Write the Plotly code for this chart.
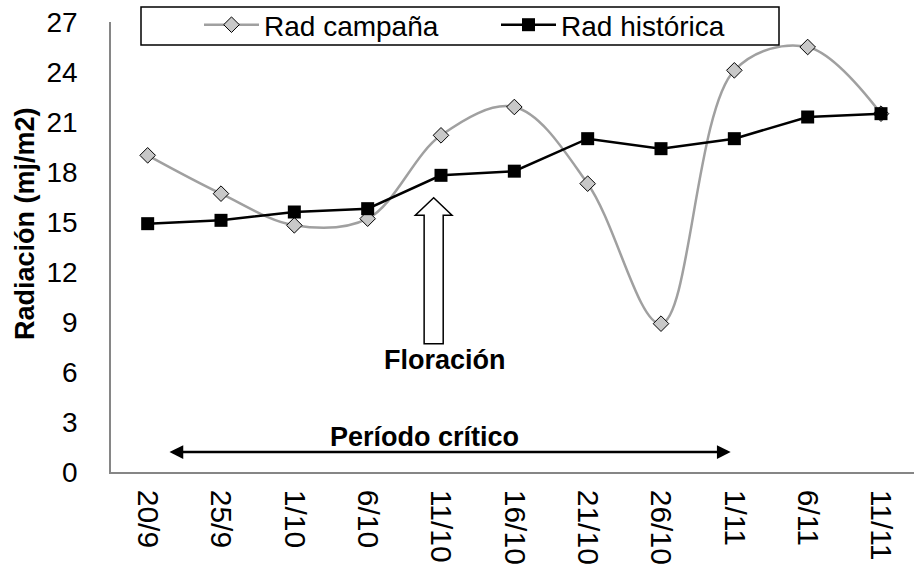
import plotly.graph_objects as go

# ---------------- data ----------------
fechas = ["20/9", "25/9", "1/10", "6/10", "11/10", "16/10", "21/10", "26/10", "1/11", "6/11", "11/11"]
rad_campana = [19.0, 16.7, 14.8, 15.2, 20.2, 21.9, 17.3, 8.9, 24.1, 25.5, 21.5]
rad_historica = [14.9, 15.1, 15.6, 15.8, 17.8, 18.05, 20.0, 19.4, 20.0, 21.3, 21.5]
y_ticks = [0, 3, 6, 9, 12, 15, 18, 21, 24, 27]

FONT = "Liberation Sans, Arial, sans-serif"
W, H = 914, 576
ML, MT = 111, 22
PLOT_BOTTOM = 472
MB = H - PLOT_BOTTOM
MR = 0
PW = W - ML - MR
PH = H - MT - MB

def px_x(p):
    return (p - ML) / PW

def px_y(p):
    return (PLOT_BOTTOM - p) / PH

idx = list(range(len(fechas)))

fig = go.Figure()
fig.add_trace(go.Scatter(
    x=idx, y=rad_campana, name="Rad campaña", mode="lines+markers",
    line=dict(color="#A0A0A0", width=2.5, shape="spline", smoothing=1),
    marker=dict(symbol="diamond", size=12, color="#C8C8C8", line=dict(color="black", width=1)),
))
fig.add_trace(go.Scatter(
    x=idx, y=rad_historica, name="Rad histórica", mode="lines+markers",
    line=dict(color="black", width=2.5),
    marker=dict(symbol="square", size=13, color="black"),
))

# Floración block arrow (hollow)
fx, tip, hb, bot, sw, hw = 3.9, 16.45, 15.4, 7.7, 0.13, 0.25
path = (f"M {fx-sw},{bot} L {fx-sw},{hb} L {fx-hw},{hb} L {fx},{tip} "
        f"L {fx+hw},{hb} L {fx+sw},{hb} L {fx+sw},{bot} Z")
fig.add_shape(type="path", path=path, xref="x", yref="y",
              line=dict(color="black", width=1.5), fillcolor="white")

annotations = [
    dict(x=4.05, y=6.72, xref="x", yref="y", text="<b>Floración</b>", showarrow=False,
         font=dict(family=FONT, size=27, color="black")),
    dict(x=3.77, y=2.1, xref="x", yref="y", text="<b>Período crítico</b>", showarrow=False,
         font=dict(family=FONT, size=27, color="black")),
    dict(x=7.95, y=1.2, ax=0.277, ay=1.2, xref="x", yref="y", axref="x", ayref="y",
         text="", showarrow=True, arrowside="end+start", arrowhead=2, startarrowhead=2,
         arrowsize=1.1, startarrowsize=1.1, arrowwidth=2.5, arrowcolor="black"),
    dict(x=px_x(25), y=px_y(224), xref="paper", yref="paper", textangle=-90,
         text="<b>Radiación (mj/m2)</b>", showarrow=False, xanchor="center", yanchor="middle",
         font=dict(family=FONT, size=27, color="black")),
]

# legend box
fig.add_shape(type="rect", xref="paper", yref="paper",
              x0=px_x(141), x1=px_x(779), y0=px_y(45), y1=px_y(7),
              line=dict(color="black", width=1.5), fillcolor="white", layer="above")

fig.update_layout(
    width=W, height=H,
    margin=dict(l=ML, r=MR, t=MT, b=MB, autoexpand=False),
    paper_bgcolor="white", plot_bgcolor="white",
    font=dict(family=FONT, size=28, color="black"),
    showlegend=True,
    legend=dict(orientation="h", x=px_x(199), y=px_y(0), xanchor="left", yanchor="top",
                bgcolor="rgba(0,0,0,0)", borderwidth=0, itemwidth=55,
                entrywidth=227, entrywidthmode="pixels",
                font=dict(family=FONT, size=28, color="black")),
    annotations=annotations,
    xaxis=dict(range=[-0.5, 10.45], tickmode="array", tickvals=idx, ticktext=fechas,
               tickangle=90, showline=True, linecolor="#868686", linewidth=1.5,
               showgrid=False, zeroline=False, ticks="", ticklabelstandoff=10,
               ticklabeloverflow="allow",
               tickfont=dict(family=FONT, size=30, color="black"), automargin=False),
    yaxis=dict(range=[0, 27], tickmode="array", tickvals=y_ticks,
               showline=True, linecolor="#868686", linewidth=1.5,
               showgrid=False, zeroline=False, ticks="", ticklabelstandoff=26,
               ticklabeloverflow="allow",
               tickfont=dict(family=FONT, size=28, color="black"), automargin=False),
)

fig.write_html(
    "out.html",
    config={"displayModeBar": False},
    post_script="document.body.style.margin='0px';document.body.style.overflow='hidden';",
)
